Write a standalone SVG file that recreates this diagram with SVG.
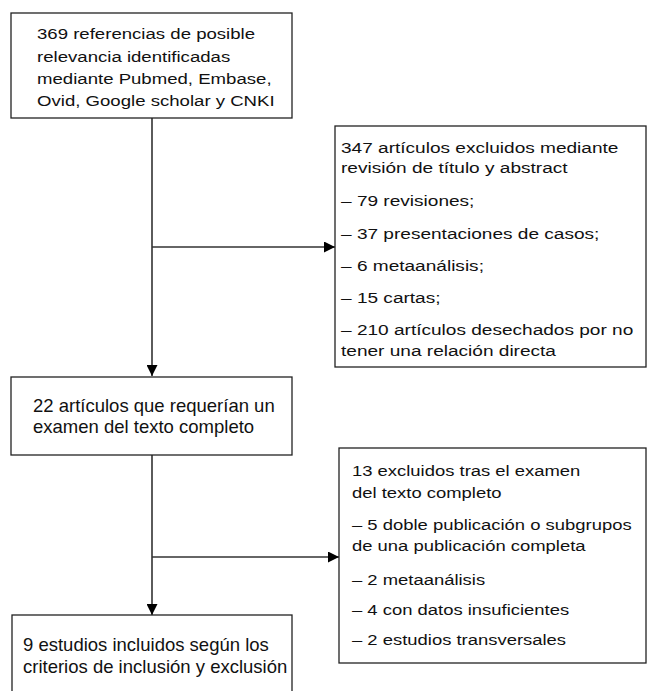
<svg xmlns="http://www.w3.org/2000/svg" width="648" height="691" viewBox="0 0 648 691">
<style>
.box{fill:#fff;stroke:#222;stroke-width:1.3}
.t{font-family:"Liberation Sans",Arial,sans-serif;fill:#111}
.s{font-size:15.5px}
.l{font-size:18.5px}
.c{fill:none;stroke:#333;stroke-width:1.6}
</style>
<defs>
<marker id="ah" markerWidth="11" markerHeight="11" viewBox="0 0 11 11" refX="11" refY="5.5" orient="auto" markerUnits="userSpaceOnUse">
<path d="M0,0 L11,5.5 L0,11 Z" fill="#000"/>
</marker>
</defs>
<g id="connectors">
<line class="c" x1="152" y1="118" x2="152" y2="376" marker-end="url(#ah)"/>
<line class="c" x1="152" y1="247" x2="335" y2="247" marker-end="url(#ah)"/>
<line class="c" x1="152" y1="455" x2="152" y2="615" marker-end="url(#ah)"/>
<line class="c" x1="152" y1="557" x2="339" y2="557" marker-end="url(#ah)"/>
</g>
<g id="n1">
<rect class="box" x="11" y="13" width="281" height="105"/>
<g transform="matrix(1.2 0 0 1 37 0)">
<text class="t s" x="0" y="39">369 referencias de posible</text>
<text class="t s" x="0" y="62">relevancia identificadas</text>
<text class="t s" x="0" y="84">mediante Pubmed, Embase,</text>
<text class="t s" x="0" y="106">Ovid, Google scholar y CNKI</text>
</g>
</g>
<g id="n2">
<rect class="box" x="335" y="126" width="311" height="241"/>
<g transform="matrix(1.23 0 0 1 341 0)">
<text class="t s" x="0" y="153">347 artículos excluidos mediante</text>
<text class="t s" x="0" y="173">revisión de título y abstract</text>
<text class="t s" x="0" y="206">– 79 revisiones;</text>
<text class="t s" x="0" y="239">– 37 presentaciones de casos;</text>
<text class="t s" x="0" y="271">– 6 metaanálisis;</text>
<text class="t s" x="0" y="303">– 15 cartas;</text>
<text class="t s" x="0" y="335">– 210 artículos desechados por no</text>
<text class="t s" x="0" y="356">tener una relación directa</text>
</g>
</g>
<g id="n3">
<rect class="box" x="11" y="377" width="281" height="78"/>
<text class="t l" x="33" y="412">22 artículos que requerían un</text>
<text class="t l" x="33" y="433">examen del texto completo</text>
</g>
<g id="n4">
<rect class="box" x="339" y="448" width="307" height="215"/>
<g transform="matrix(1.19 0 0 1 352 0)">
<text class="t s" x="0" y="476">13 excluidos tras el examen</text>
<text class="t s" x="0" y="498">del texto completo</text>
<text class="t s" x="0" y="530">– 5 doble publicación o subgrupos</text>
<text class="t s" x="0" y="551">de una publicación completa</text>
<text class="t s" x="0" y="585">– 2 metaanálisis</text>
<text class="t s" x="0" y="615">– 4 con datos insuficientes</text>
<text class="t s" x="0" y="645">– 2 estudios transversales</text>
</g>
</g>
<g id="n5">
<rect class="box" x="12" y="615" width="280" height="90"/>
<text class="t l" x="23" y="651">9 estudios incluidos según los</text>
<text class="t l" x="23" y="673">criterios de inclusión y exclusión</text>
</g>
</svg>
